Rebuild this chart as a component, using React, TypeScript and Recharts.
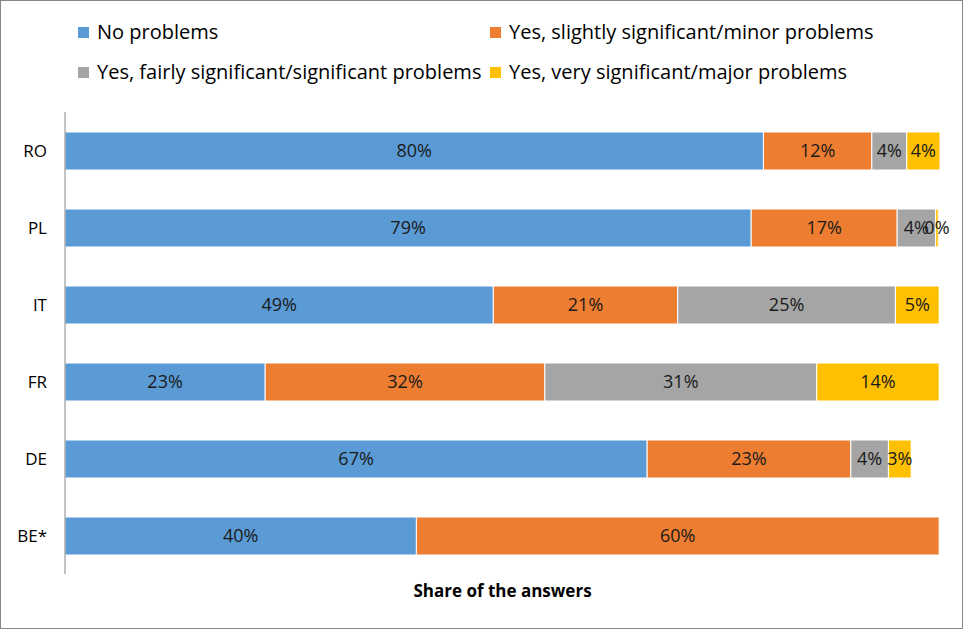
import React from 'react';
import { BarChart, Bar, XAxis, YAxis, LabelList } from 'recharts';

const countries = ['RO', 'PL', 'IT', 'FR', 'DE', 'BE*'];
const noProblems = [79.9, 78.5, 49.0, 22.9, 66.6, 40.2];
const minorProblems = [12.4, 16.7, 21.1, 32.0, 23.3, 59.8];
const significantProblems = [4.0, 4.4, 24.9, 31.1, 4.3, 0];
const majorProblems = [3.8, 0.3, 5.0, 14.0, 2.6, 0];

const seriesNames = [
    'No problems',
    'Yes, slightly significant/minor problems',
    'Yes, fairly significant/significant problems',
    'Yes, very significant/major problems',
];
const seriesColors = ['#5B9BD5', '#ED7D31', '#A5A5A5', '#FFC000'];

const data = countries.map((c, i) => ({
    country: c,
    no: noProblems[i],
    minor: minorProblems[i],
    significant: significantProblems[i],
    major: majorProblems[i],
}));

const FONT = '"Open Sans", sans-serif';

// 0 means "not answered" here, so no label for it
const fmt = (v: any) => (v === null || v === undefined || Number(v) === 0 ? '' : `${Math.round(Number(v))}%`);

// legend positions (2 columns x 2 rows)
const legendSpots = [
    { left: 78, top: 21 },
    { left: 490, top: 21 },
    { left: 78, top: 61 },
    { left: 490, top: 61 },
];

const labelProps = { position: 'center' as const, formatter: fmt, fill: '#1a1a1a', fontSize: 18, fontFamily: FONT };

const App: React.FC = () => {
    return (
        <div style={{ position: 'relative', width: 963, height: 629, background: '#fff', fontFamily: FONT }}>
            <style>{'body{margin:0}'}</style>
            <BarChart
                width={963}
                height={629}
                data={data}
                layout="vertical"
                margin={{ top: 112, right: 23, bottom: 15, left: 0 }}
                barSize={38}
            >
                <XAxis
                    type="number"
                    domain={[0, 100]}
                    tick={false}
                    axisLine={false}
                    tickLine={false}
                    height={40}
                    label={{
                        value: 'Share of the answers',
                        position: 'center',
                        dy: -3,
                        fill: '#000',
                        fontSize: 17,
                        fontWeight: 700,
                        fontFamily: FONT,
                    }}
                />
                <YAxis
                    type="category"
                    dataKey="country"
                    width={65}
                    tickLine={false}
                    tickMargin={12}
                    axisLine={{ stroke: '#868686' }}
                    tick={{ fill: '#000', fontSize: 17, fontFamily: FONT }}
                />
                <Bar dataKey="no" name={seriesNames[0]} stackId="a" fill={seriesColors[0]} stroke="#fff" strokeWidth={1} isAnimationActive={false}>
                    <LabelList dataKey="no" {...labelProps} />
                </Bar>
                <Bar dataKey="minor" name={seriesNames[1]} stackId="a" fill={seriesColors[1]} stroke="#fff" strokeWidth={1} isAnimationActive={false}>
                    <LabelList dataKey="minor" {...labelProps} />
                </Bar>
                <Bar dataKey="significant" name={seriesNames[2]} stackId="a" fill={seriesColors[2]} stroke="#fff" strokeWidth={1} isAnimationActive={false}>
                    <LabelList dataKey="significant" {...labelProps} />
                </Bar>
                <Bar dataKey="major" name={seriesNames[3]} stackId="a" fill={seriesColors[3]} stroke="#fff" strokeWidth={1} isAnimationActive={false}>
                    <LabelList dataKey="major" {...labelProps} />
                </Bar>
            </BarChart>
            {seriesNames.map((n, i) => (
                <div
                    key={n}
                    style={{
                        position: 'absolute',
                        left: legendSpots[i].left,
                        top: legendSpots[i].top,
                        display: 'flex',
                        alignItems: 'center',
                        fontSize: 20,
                        color: '#000',
                        whiteSpace: 'nowrap',
                        lineHeight: '22px',
                    }}
                >
                    <span style={{ display: 'inline-block', width: 11, height: 11, background: seriesColors[i], marginRight: 8 }} />
                    {n}
                </div>
            ))}
            <div
                style={{
                    position: 'absolute',
                    left: 0,
                    top: 0,
                    width: 963,
                    height: 629,
                    boxSizing: 'border-box',
                    border: '1px solid #868686',
                    pointerEvents: 'none',
                }}
            />
        </div>
    );
};

export default App;
